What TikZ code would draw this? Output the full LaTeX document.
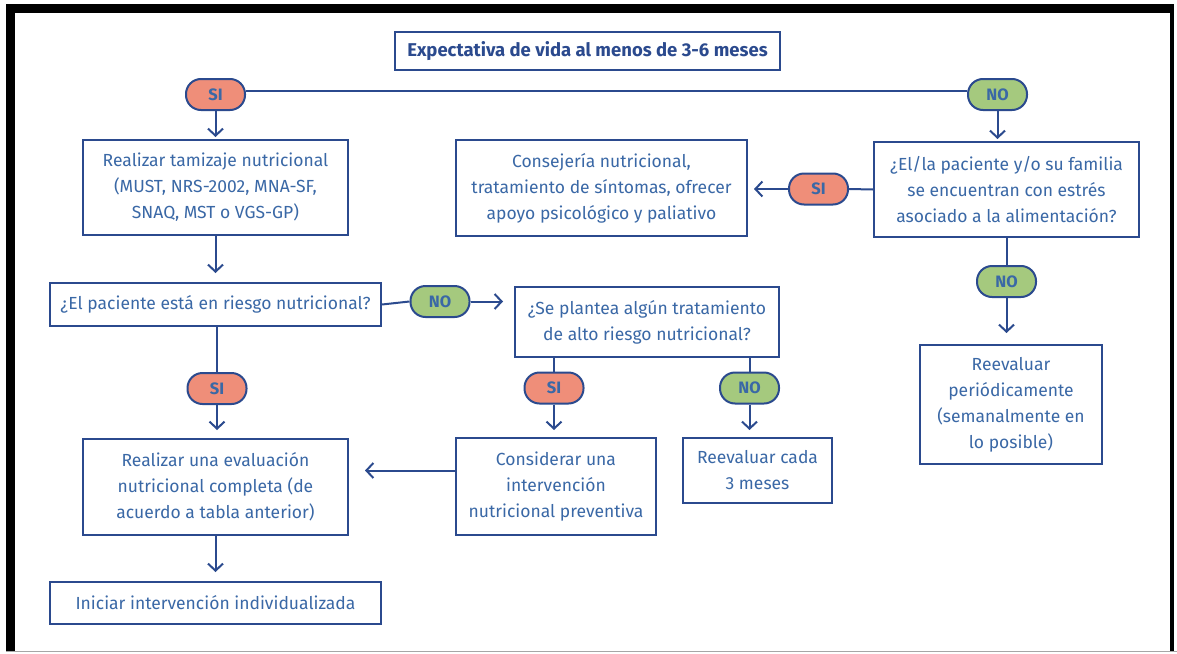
\documentclass[tikz,border=0pt]{standalone}
\usepackage{fontspec}
\setmainfont{Fira Sans}
\usetikzlibrary{arrows.meta,calc}
\definecolor{navy}{HTML}{2B4A8E}
\definecolor{txtblue}{HTML}{3A68A6}
\definecolor{salmon}{HTML}{EF8E79}
\definecolor{leaf}{HTML}{A5C97E}
\tikzset{
  box/.style={draw=navy, line width=2pt, fill=white, text=txtblue, align=center,
    font=\fontsize{17.5}{26}\selectfont, inner sep=0pt},
  pill/.style={draw=navy, line width=2pt, rounded corners=15pt, minimum width=59pt,
    minimum height=31pt, inner sep=0pt, text=txtblue, font=\fontsize{16.5}{18}\selectfont\bfseries},
  sipill/.style={pill, fill=salmon},
  nopill/.style={pill, fill=leaf},
  link/.style={draw=navy, line width=2pt},
  arr/.style={link, -{Straight Barb[length=7pt,width=15pt,line width=2pt]}},
}
\begin{document}
\begin{tikzpicture}[x=1pt,y=-1pt]
\useasboundingbox (0,0) rectangle (1177,653);
\fill[white] (0,0) rectangle (1177,653);
% frame around the chart
\fill[black] (6,4) rectangle (15,651);
\fill[black] (6,4) rectangle (1174,13);
\fill[black] (1170,4) rectangle (1174,651);
\draw[gray!70, line width=1.5pt] (6,651.5) -- (1177,651.5);

% boxes
\node[box, minimum width=385pt, minimum height=38pt, text=navy, font=\fontsize{18.5}{20}\selectfont\bfseries]
  (title) at (587.5,51) {Expectativa de vida al menos de 3-6 meses};
\node[box, minimum width=265pt, minimum height=95pt] (tamiz) at (215.5,187.5)
  {Realizar tamizaje nutricional\\(MUST, NRS-2002, MNA-SF,\\SNAQ, MST o VGS-GP)};
\node[box, minimum width=331pt, minimum height=43pt] (riesgo) at (215.5,304.5)
  {¿El paciente está en riesgo nutricional?};
\node[box, minimum width=264pt, minimum height=70pt] (plantea) at (647,322)
  {¿Se plantea algún tratamiento\\de alto riesgo nutricional?};
\node[box, minimum width=200pt, minimum height=97pt] (consid) at (556,486.5)
  {Considerar una\\intervención\\nutricional preventiva};
\node[box, minimum width=149pt, minimum height=65pt] (reev3) at (757.5,470.5)
  {Reevaluar cada\\3 meses};
\node[box, minimum width=265pt, minimum height=96pt] (evalua) at (215.5,487)
  {Realizar una evaluación\\nutricional completa (de\\acuerdo a tabla anterior)};
\node[box, minimum width=331pt, minimum height=42pt] (iniciar) at (215.5,603)
  {Iniciar intervención individualizada};
\node[box, minimum width=291pt, minimum height=96pt] (conseje) at (601.5,188)
  {Consejería nutricional,\\tratamiento de síntomas, ofrecer\\apoyo psicológico y paliativo};
\node[box, minimum width=265pt, minimum height=95pt] (estres) at (1006.5,189.5)
  {¿El/la paciente y/o su familia\\se encuentran con estrés\\asociado a la alimentación?};
\node[box, minimum width=182pt, minimum height=119pt] (reevper) at (1011,404.5)
  {Reevaluar\\periódicamente\\(semanalmente en\\lo posible)};

% answer pills
\node[sipill] (si1) at (215.5,94.5) {SI};
\node[nopill] (no1) at (997.5,94.5) {NO};
\node[sipill] (si2) at (818.5,189) {SI};
\node[nopill] (no2) at (440,301.5) {NO};
\node[sipill] (si3) at (217,388.5) {SI};
\node[sipill] (si4) at (554,388) {SI};
\node[nopill] (no3) at (749.5,388) {NO};
\node[nopill] (no4) at (1006.5,281.5) {NO};

% connectors
\draw[link] ([yshift=4pt]si1.east) -- ([yshift=4pt]no1.west);
\draw[arr, shorten >=2pt] (si1.south) -- (si1.south |- tamiz.north);
\draw[arr, shorten >=2pt] (no1.south) -- (no1.south |- estres.north);
\draw[arr, shorten >=9pt] (tamiz.south) -- (tamiz.south |- riesgo.north);
\draw[link] (riesgo.east) -- (no2.west);
\draw[arr, shorten >=11pt] (no2.east) -- (no2.east -| plantea.west);
\draw[link] (riesgo.south -| si3) -- (si3.north);
\draw[arr, shorten >=8pt] (si3.south) -- (si3.south |- evalua.north);
\draw[link] (plantea.south -| si4) -- (si4.north);
\draw[arr, shorten >=7pt] (si4.south) -- (si4.south |- consid.north);
\draw[link] (plantea.south -| no3) -- (no3.north);
\draw[arr, shorten >=7pt] (no3.south) -- (no3.south |- reev3.north);
\coordinate (cw) at ([yshift=16pt]consid.west);
\draw[arr, shorten >=16pt] (cw) -- (cw -| evalua.east);
\draw[arr, shorten >=9pt] (evalua.south) -- (evalua.south |- iniciar.north);
\draw[link] (estres.west) -- (si2.east);
\draw[arr, shorten >=6pt] (si2.west) -- (si2.west -| conseje.east);
\draw[link] (estres.south -| no4) -- (no4.north);
\draw[arr, shorten >=11pt] (no4.south) -- (no4.south |- reevper.north);
\end{tikzpicture}
\end{document}
